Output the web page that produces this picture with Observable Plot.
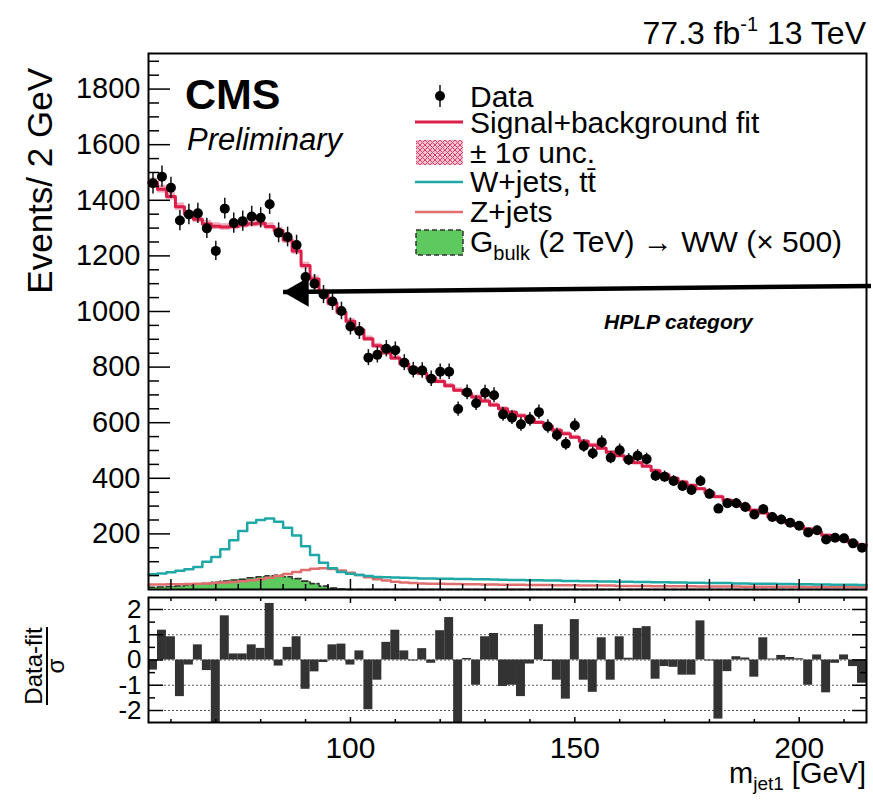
<!DOCTYPE html>
<html>
<head>
<meta charset="utf-8">
<script src="https://cdn.jsdelivr.net/npm/d3@7"></script>
<script src="https://cdn.jsdelivr.net/npm/@observablehq/plot@0.6"></script>
<style>
  html, body { margin: 0; padding: 0; background: #fff; }
  #fig { position: relative; width: 873px; height: 802px; overflow: hidden; }
  #fig > svg { position: absolute; left: 0; }
</style>
</head>
<body>
<div id="fig"></div>
<script>
// ---- binning: 2 GeV bins from 55 to 215 GeV (bin centres) ----
const binWidth = 2;
const massBins = d3.range(56, 216, binWidth);

// ---- observed events per bin ----
const dataCounts = [
  1461,1485,1445,1327,1349,1353,1299,1218,1370,1318,
  1325,1342,1337,1386,1283,1268,1239,1124,1100,1061,
  1036,1002, 946, 930, 834, 844, 866, 861, 816, 789,
   788, 758, 783, 783, 649, 709, 670, 708, 699, 630,
   618, 594, 612, 638, 586, 556, 524, 590, 516, 490,
   530, 474, 501, 467, 481, 469, 409, 406, 390, 372,
   358, 390, 344, 291, 310, 310, 297, 270, 289, 261,
   252, 240, 229, 205, 213, 180, 186, 184, 166, 150];

// ---- signal + background fit ----
const fitCounts = [
  1465,1440,1414,1377,1351,1332,1315,1307,1304,1306,
  1311,1316,1317,1306,1291,1257,1218,1165,1117,1070,
  1030, 997, 965, 934, 902, 877, 852, 833, 812, 794,
   778, 762, 748, 733, 717, 705, 692, 678, 664, 650,
   638, 625, 613, 601, 587, 573, 560, 548, 533, 519,
   508, 494, 481, 468, 456, 443, 427, 413, 400, 387,
   374, 362, 348, 334, 321, 310, 298, 285, 275, 262,
   250, 239, 228, 218, 207, 195, 186, 180, 168, 159];

// ---- +-1 sigma fit uncertainty (events) ----
const fitUnc = [
  14,14,13,13,12,12,12,12,12,12,
  12,12,12,12,12,12,12,12,11,11,
  11,10,10,10,10, 9, 9, 9, 9, 9,
   9, 8, 8, 8, 8, 8, 8, 8, 8, 7,
   7, 7, 7, 7, 7, 7, 7, 7, 7, 7,
   6, 6, 6, 6, 6, 6, 6, 6, 6, 6,
   6, 5, 5, 5, 5, 5, 5, 5, 5, 5,
   5, 5, 5, 5, 5, 5, 5, 5, 6, 6];

// ---- W+jets, ttbar component ----
const wjetsCounts = [
   55, 58, 62, 67, 73, 81,100,117,145,177,
  210,240,250,255,244,222,194,156,124, 96,
   76, 63, 57, 52, 49, 45, 44, 43, 42, 41,
   40, 40, 39, 39, 38, 38, 37, 37, 36, 35,
   34, 34, 33, 33, 32, 32, 31, 31, 30, 30,
   29, 29, 28, 28, 27, 27, 26, 26, 25, 25,
   24, 24, 23, 23, 23, 22, 22, 21, 21, 21,
   20, 20, 19, 19, 18, 18, 17, 17, 17, 16];

// ---- Z+jets component ----
const zjetsCounts = [
   18, 18, 19, 19, 20, 21, 22, 23, 25, 27,
   30, 33, 37, 42, 49, 56, 63, 70, 75, 76,
   74, 68, 60, 52, 44, 37, 32, 28, 25, 23,
   22, 21, 21, 20, 20, 19, 19, 18, 18, 17,
   17, 17, 16, 16, 16, 15, 15, 15, 14, 14,
   14, 14, 13, 13, 13, 13, 12, 12, 12, 12,
   12, 11, 11, 11, 11, 11, 10, 10, 10, 10,
   10, 10, 10,  9,  9,  9,  9,  9,  9,  9];

// ---- G_bulk (2 TeV) -> WW signal, scaled x500 ----
const signalCounts = [
    8,  9, 11, 13, 16, 19, 22, 26, 30, 34,
   37, 42, 46, 49, 51, 46, 39, 30, 21, 12,
    5,  2,  0,  0,  0,  0,  0,  0,  0,  0,
    0,  0,  0,  0,  0,  0,  0,  0,  0,  0,
    0,  0,  0,  0,  0,  0,  0,  0,  0,  0,
    0,  0,  0,  0,  0,  0,  0,  0,  0,  0,
    0,  0,  0,  0,  0,  0,  0,  0,  0,  0,
    0,  0,  0,  0,  0,  0,  0,  0,  0,  0];

// ---- pulls (data - fit) / sigma ----
const pulls = [
  -0.40, 1.18, 0.92,-1.45,-0.20, 0.60,-0.42,-2.60, 1.75, 0.24,
   0.24, 0.60, 0.46, 2.24,-0.24, 0.50, 0.92,-1.16,-0.47,-0.10,
   0.60, 0.63,-0.20, 0.36,-1.97,-0.80, 0.70, 1.18, 0.36,-0.04,
   0.45,-0.13, 1.16, 1.68,-2.60, 0.06,-1.00, 0.92, 1.05,-1.05,
  -1.00,-1.45,-0.16, 1.40,-0.06,-0.80,-1.55, 1.60,-0.80,-1.28,
   0.88,-0.80, 0.92, 0.07, 1.25, 1.32,-0.76,-0.26,-0.29,-0.60,
  -0.60, 1.55,-0.04,-2.34,-0.46, 0.13, 0.08,-0.68, 0.88, 0.04,
   0.18, 0.10, 0.05,-1.00, 0.20,-1.30,-0.13, 0.20,-0.26,-0.92];

// ---- annotation arrow (GeV, events): tail -> tip ----
const arrowX = [216, 85];
const arrowY = [1092, 1070];

// ---- axis ticks ----
const mainYMajor = [200, 400, 600, 800, 1000, 1200, 1400, 1600, 1800];
const mainYMinor = d3.range(50, 1950, 50).filter(v => v % 200 !== 0);
const mainXMajor = [60, 80, 100, 120, 140, 160, 180, 200];
const mainXMinor = d3.range(60, 215, 5).filter(v => v % 20 !== 0);
const pullMajor = [-2, -1, 0, 1, 2];
const pullMinor = [-1.5, -0.5, 0.5, 1.5];
const lowXLabels = [100, 150, 200];
const lowXMinor = d3.range(60, 215, 10).filter(v => v % 50 !== 0);

// ---- colours ----
const cFit = "#dc1e4a", cW = "#1fa8a6", cZ = "#e06e6e", cSig = "#5ec95e", cBand = "#f0a8ba";
const FONT = '"Liberation Sans", Arial, Helvetica, sans-serif';

// histogram outline rows: left edge of each bin plus the last right edge
function stepRows(values) {
  const rows = values.map((v, i) => ({x: massBins[i] - binWidth / 2, y: v}));
  rows.push({x: massBins[massBins.length - 1] + binWidth / 2, y: values[values.length - 1]});
  return rows;
}
const bandRows = stepRows(fitCounts).map((r, i) => {
  const j = Math.min(i, fitUnc.length - 1);
  return {x: r.x, lo: r.y - fitUnc[j], hi: r.y + fitUnc[j]};
});
const dataRows = massBins.map((m, i) => {
  const n = dataCounts[i], e = Math.sqrt(n);
  return {m, n, lo: n - e, hi: n + e};
});
const pullRows = massBins.map((m, i) => ({x1: m - binWidth / 2, x2: m + binWidth / 2, p: pulls[i]}));
const arrowRows = [{x1: arrowX[0], y1: arrowY[0], x2: arrowX[1], y2: arrowY[1]}];

const fig = document.getElementById("fig");

// ================= upper panel =================
const main = Plot.plot({
  width: 873, height: 600,
  marginTop: 53, marginBottom: 11, marginLeft: 148, marginRight: 7,
  x: {domain: [55, 215]},
  y: {domain: [0, 1928]},
  style: {fontFamily: FONT, fontSize: "29px", color: "#000", background: "transparent", overflow: "visible"},
  marks: [
    Plot.areaY(stepRows(signalCounts), {x: "x", y: "y", curve: "step-after", fill: cSig}),
    Plot.lineY(stepRows(signalCounts), {x: "x", y: "y", curve: "step-after", stroke: "#333", strokeWidth: 1.6, strokeDasharray: "6,3"}),
    Plot.lineY(stepRows(zjetsCounts), {x: "x", y: "y", curve: "step-after", stroke: cZ, strokeWidth: 2.5}),
    Plot.lineY(stepRows(wjetsCounts), {x: "x", y: "y", curve: "step-after", stroke: cW, strokeWidth: 2.5}),
    Plot.areaY(bandRows, {x: "x", y1: "lo", y2: "hi", curve: "step-after", fill: cBand}),
    Plot.lineY(stepRows(fitCounts), {x: "x", y: "y", curve: "step-after", stroke: cFit, strokeWidth: 3}),
    Plot.ruleX(dataRows, {x: "m", y1: "lo", y2: "hi", stroke: "#111", strokeWidth: 1.5}),
    Plot.dot(dataRows, {x: "m", y: "n", r: 5, fill: "#000", stroke: "none"}),
    Plot.link(arrowRows, {x1: "x1", y1: "y1", x2: "x2", y2: "y2", stroke: "#000", strokeWidth: 4.5}),
    Plot.dot(arrowRows, {x: "x2", y: "y2", symbol: "triangle", r: 11, rotate: -90, dx: 17, fill: "#000", stroke: "none"}),
    Plot.axisY(mainYMajor, {anchor: "left", tickSize: -22, tickPadding: 30, strokeWidth: 1.5, tickFormat: d => String(d), fontSize: 29, label: null}),
    Plot.axisY(mainYMinor, {anchor: "left", tickSize: -11, strokeWidth: 1.5, fill: "none", label: null}),
    Plot.axisX(mainXMajor, {anchor: "bottom", tickSize: -10, strokeWidth: 1.5, fill: "none", label: null}),
    Plot.axisX(mainXMinor, {anchor: "bottom", tickSize: -5, strokeWidth: 1.5, fill: "none", label: null}),
    Plot.frame({stroke: "#000", strokeWidth: 2})
  ]
});
main.style.top = "0px";
fig.appendChild(main);

// ================= pull panel =================
const lower = Plot.plot({
  width: 873, height: 213,
  marginTop: 8, marginBottom: 80, marginLeft: 148, marginRight: 7,
  x: {domain: [55, 215]},
  y: {domain: [-2.475, 2.475]},
  style: {fontFamily: FONT, fontSize: "26px", color: "#000", background: "transparent", overflow: "visible"},
  marks: [
    Plot.ruleY(pullMajor, {stroke: "#555", strokeWidth: 1, strokeDasharray: "2,2"}),
    Plot.rectY(pullRows, {x1: "x1", x2: "x2", y: "p", fill: "#333", clip: true}),
    Plot.axisY(pullMajor, {anchor: "left", tickSize: -15, tickPadding: 22, strokeWidth: 1.5, tickFormat: d => String(d), fontSize: 26, label: null}),
    Plot.axisY(pullMinor, {anchor: "left", tickSize: -7, strokeWidth: 1.5, fill: "none", label: null}),
    Plot.axisY(pullMajor, {anchor: "right", tickSize: -15, strokeWidth: 1.5, fill: "none", label: null}),
    Plot.axisY(pullMinor, {anchor: "right", tickSize: -7, strokeWidth: 1.5, fill: "none", label: null}),
    Plot.axisX(lowXLabels, {anchor: "bottom", tickSize: -5, tickPadding: 19, strokeWidth: 1.5, tickFormat: d => String(d), fontSize: 30, label: null}),
    Plot.axisX(lowXMinor, {anchor: "bottom", tickSize: -3, strokeWidth: 1.5, fill: "none", label: null}),
    Plot.axisX(lowXLabels, {anchor: "top", tickSize: -5, strokeWidth: 1.5, fill: "none", label: null}),
    Plot.axisX(lowXMinor, {anchor: "top", tickSize: -3, strokeWidth: 1.5, fill: "none", label: null}),
    Plot.frame({stroke: "#000", strokeWidth: 2})
  ]
});
lower.style.top = "589px";
fig.appendChild(lower);

// ================= titles, labels and legend =================
const ov = d3.create("svg")
  .attr("width", 873).attr("height", 802)
  .style("top", "0px").style("pointer-events", "none")
  .attr("font-family", FONT);

const defs = ov.append("defs");
const pat = defs.append("pattern").attr("id", "uncHatch")
  .attr("width", 5).attr("height", 5).attr("patternUnits", "userSpaceOnUse");
pat.append("rect").attr("width", 5).attr("height", 5).attr("fill", "#f5c2cf");
pat.append("path").attr("d", "M0,0L5,5M5,0L0,5").attr("stroke", "#d8416b").attr("stroke-width", 1);

// luminosity / energy
const lumi = ov.append("text").attr("x", 866).attr("y", 44).attr("text-anchor", "end").attr("font-size", 32);
lumi.append("tspan").text("77.3 fb");
lumi.append("tspan").attr("dy", -13).attr("font-size", 20).text("-1");
lumi.append("tspan").attr("dy", 13).text(" 13 TeV");

ov.append("text").attr("x", 185).attr("y", 109).attr("font-size", 43).attr("font-weight", "bold").text("CMS");
ov.append("text").attr("x", 187).attr("y", 150).attr("font-size", 31).attr("font-style", "italic").text("Preliminary");
ov.append("text").attr("x", 604).attr("y", 329).attr("font-size", 21).attr("font-weight", "bold").attr("font-style", "italic").text("HPLP category");

// axis titles
ov.append("text").attr("transform", "translate(52,68) rotate(-90)").attr("text-anchor", "end").attr("font-size", 35).text("Events/ 2 GeV");
ov.append("text").attr("transform", "translate(42,666) rotate(-90)").attr("text-anchor", "middle").attr("font-size", 24).text("Data-fit");
ov.append("line").attr("x1", 47).attr("x2", 47).attr("y1", 627).attr("y2", 705).attr("stroke", "#000").attr("stroke-width", 2);
ov.append("text").attr("transform", "translate(64,666) rotate(-90)").attr("text-anchor", "middle").attr("font-size", 24).text("σ");
const xt = ov.append("text").attr("x", 866).attr("y", 783).attr("text-anchor", "end").attr("font-size", 29);
xt.append("tspan").text("m");
xt.append("tspan").attr("dy", 7).attr("font-size", 19).text("jet1");
xt.append("tspan").attr("dy", -7).text(" [GeV]");

// legend
const lg = ov.append("g");
const lx = 470, fs = 30;
lg.append("line").attr("x1", 440).attr("x2", 440).attr("y1", 85).attr("y2", 107).attr("stroke", "#111").attr("stroke-width", 1.5);
lg.append("circle").attr("cx", 440).attr("cy", 96).attr("r", 5).attr("fill", "#000");
lg.append("text").attr("x", lx).attr("y", 107).attr("font-size", fs).text("Data");
lg.append("line").attr("x1", 415).attr("x2", 463).attr("y1", 122).attr("y2", 122).attr("stroke", cFit).attr("stroke-width", 3);
lg.append("text").attr("x", lx).attr("y", 133).attr("font-size", fs).text("Signal+background fit");
lg.append("rect").attr("x", 416).attr("y", 140).attr("width", 47).attr("height", 25).attr("fill", "url(#uncHatch)");
lg.append("text").attr("x", lx).attr("y", 163).attr("font-size", fs).text("± 1σ unc.");
lg.append("line").attr("x1", 415).attr("x2", 463).attr("y1", 182).attr("y2", 182).attr("stroke", cW).attr("stroke-width", 2.5);
lg.append("text").attr("x", lx).attr("y", 192).attr("font-size", fs).text("W+jets, tt\u0304");
lg.append("line").attr("x1", 415).attr("x2", 463).attr("y1", 212).attr("y2", 212).attr("stroke", cZ).attr("stroke-width", 2.5);
lg.append("text").attr("x", lx).attr("y", 222).attr("font-size", fs).text("Z+jets");
lg.append("rect").attr("x", 416).attr("y", 230).attr("width", 47).attr("height", 25).attr("fill", cSig)
  .attr("stroke", "#333").attr("stroke-width", 1.5).attr("stroke-dasharray", "5,3");
const gt = lg.append("text").attr("x", lx).attr("y", 252).attr("font-size", fs);
gt.append("tspan").text("G");
gt.append("tspan").attr("dy", 8).attr("font-size", 20).text("bulk");
gt.append("tspan").attr("dy", -8).text(" (2 TeV) \u2192 WW (\u00d7 500)");

fig.appendChild(ov.node());
</script>
</body>
</html>
